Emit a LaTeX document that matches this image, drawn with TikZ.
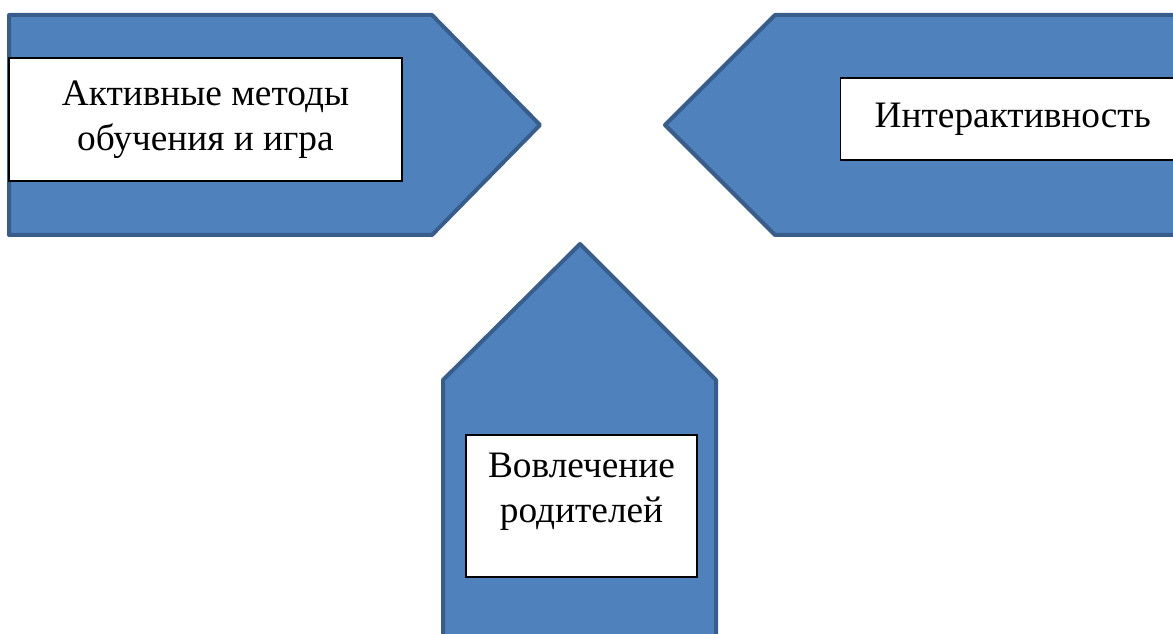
\documentclass[tikz,border=0pt]{standalone}
\usepackage{fontspec}
\setmainfont{LiberationSerif}[Extension=.ttf, UprightFont=*-Regular, BoldFont=*-Bold]
\usepackage{xcolor}
\usepackage{tikz}
\usetikzlibrary{positioning}

\definecolor{arrowfill}{HTML}{4F81BD}
\definecolor{arrowline}{HTML}{385D8A}

\tikzset{
    bigarrow/.style={fill=arrowfill, draw=arrowline, line width=3pt, line join=round},
    txtbox/.style={draw=black, fill=white, line width=1.1pt, inner sep=0pt, align=center,
        font=\fontsize{28}{34}\selectfont},
    lbl/.style={inner sep=0pt, align=center, font=\fontsize{28}{34}\selectfont}
}

\begin{document}
\begin{tikzpicture}[x=0.75pt,y=-0.75pt]
    \useasboundingbox (0,0) rectangle (1173,634);
    \clip (0,0) rectangle (1173,634);
        % three big arrows pointing to the middle
    \draw[bigarrow] (9,15) -- (432,15) -- (540,125) -- (432,235) -- (9,235) -- cycle;
    \draw[bigarrow] (1190,15) -- (775,15) -- (665,125) -- (775,235) -- (1190,235) -- cycle;
    \draw[bigarrow] (443,650) -- (443,380) -- (580,244) -- (716,380) -- (716,650) -- cycle;
        % text boxes
    \node[txtbox, minimum width=294.75pt, minimum height=92.25pt] (metody) at (205.5,119.5)
        {Активные методы\\обучения и игра};
    \node[txtbox, anchor=west, inner xsep=25.5pt, minimum height=61.5pt] (interakt) at (840,119)
        {Интерактивность};
    \node[txtbox, minimum width=173.25pt, minimum height=106.5pt] (roditeli) at (581.5,506) {};
    \node[lbl, below=14pt of roditeli.north] (roditelitxt) {Вовлечение\\родителей};
\end{tikzpicture}
\end{document}
